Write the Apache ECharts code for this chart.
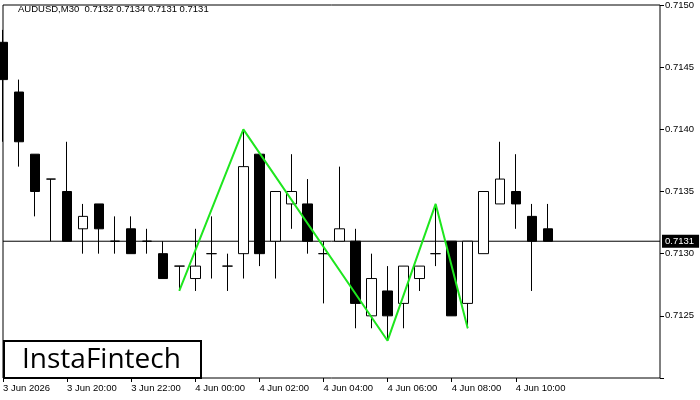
<!DOCTYPE html>
<html>
<head>
<meta charset="utf-8">
<script src="https://cdn.jsdelivr.net/npm/echarts@6/dist/echarts.min.js"></script>
<style>
  html, body { margin: 0; padding: 0; background: #fff; }
  #chart { width: 700px; height: 400px; }
</style>
</head>
<body>
<div id="chart"></div>
<script>
// 30-minute bars, 3 Jun 18:00 .. 4 Jun 11:00, plus empty slots to the right edge
const categories = [
  '3 Jun 2026', '3 Jun 18:30', '3 Jun 19:00', '3 Jun 19:30',
  '3 Jun 20:00', '3 Jun 20:30', '3 Jun 21:00', '3 Jun 21:30',
  '3 Jun 22:00', '3 Jun 22:30', '3 Jun 23:00', '3 Jun 23:30',
  '4 Jun 00:00', '4 Jun 00:30', '4 Jun 01:00', '4 Jun 01:30',
  '4 Jun 02:00', '4 Jun 02:30', '4 Jun 03:00', '4 Jun 03:30',
  '4 Jun 04:00', '4 Jun 04:30', '4 Jun 05:00', '4 Jun 05:30',
  '4 Jun 06:00', '4 Jun 06:30', '4 Jun 07:00', '4 Jun 07:30',
  '4 Jun 08:00', '4 Jun 08:30', '4 Jun 09:00', '4 Jun 09:30',
  '4 Jun 10:00', '4 Jun 10:30', '4 Jun 11:00', '4 Jun 11:30',
  '4 Jun 12:00', '4 Jun 12:30', '4 Jun 13:00', '4 Jun 13:30',
  '4 Jun 14:00', '4 Jun 14:30'
];
const opens  = [0.7147, 0.7143, 0.7138, 0.7136, 0.7135, 0.7132, 0.7134, 0.7131, 0.7132, 0.7131,
                0.7130, 0.7129, 0.7128, 0.7130, 0.7129, 0.7130, 0.7138, 0.7131, 0.7134, 0.7134,
                0.7130, 0.7131, 0.7131, 0.7125, 0.7127, 0.7126, 0.7128, 0.7130, 0.7131, 0.7126,
                0.7130, 0.7134, 0.7135, 0.7133, 0.7132];
const highs  = [0.7148, 0.7144, 0.7138, 0.7136, 0.7139, 0.7134, 0.7134, 0.7133, 0.7133, 0.7132,
                0.7131, 0.7129, 0.7132, 0.7133, 0.7130, 0.7140, 0.7138, 0.7135, 0.7138, 0.7136,
                0.7131, 0.7137, 0.7132, 0.7130, 0.7129, 0.7129, 0.7129, 0.7134, 0.7131, 0.7131,
                0.7135, 0.7139, 0.7138, 0.7134, 0.7134];
const lows   = [0.7139, 0.7137, 0.7133, 0.7131, 0.7131, 0.7130, 0.7130, 0.7130, 0.7130, 0.7130,
                0.7128, 0.7127, 0.7127, 0.7128, 0.7127, 0.7128, 0.7129, 0.7128, 0.7132, 0.7130,
                0.7126, 0.7131, 0.7124, 0.7124, 0.7123, 0.7124, 0.7127, 0.7129, 0.7125, 0.7124,
                0.7130, 0.7134, 0.7132, 0.7127, 0.7131];
const closes = [0.7144, 0.7139, 0.7135, 0.7136, 0.7131, 0.7133, 0.7132, 0.7131, 0.7130, 0.7131,
                0.7128, 0.7129, 0.7129, 0.7130, 0.7129, 0.7137, 0.7130, 0.7135, 0.7135, 0.7131,
                0.7130, 0.7132, 0.7126, 0.7128, 0.7125, 0.7129, 0.7129, 0.7130, 0.7125, 0.7131,
                0.7135, 0.7136, 0.7134, 0.7131, 0.7131];
// pattern (green zigzag): [bar index, price]
const patternPoints = [[11, 0.7127], [15, 0.7140], [24, 0.7123], [27, 0.7134], [29, 0.7124]];
const lastPrice = 0.7131;
const titleText = 'AUDUSD,M30  0.7132 0.7134 0.7131 0.7131';

const candles = opens.map((o, i) => [o, closes[i], lows[i], highs[i]]);
const lastIdx = categories.length - 1;

const showEvery4 = (idx) => idx % 4 === 0 && idx <= 32;

const chart = echarts.init(document.getElementById('chart'));
chart.setOption({
    animation: false,
    textStyle: {fontFamily: 'Liberation Sans'},
    grid: {
        left: 3,
        right: 40,
        top: 3,
        bottom: 22,
        show: true,
        borderColor: '#000',
        borderWidth: 1,
        backgroundColor: '#fff'
    },
    xAxis: {
        type: 'category',
        data: categories,
        boundaryGap: false,
        axisLine: {show: false},
        axisTick: {
            show: true,
            interval: showEvery4,
            length: 4,
            lineStyle: {color: '#000'}
        },
        axisLabel: {
            interval: showEvery4,
            align: 'left',
            margin: 5,
            color: '#000',
            fontSize: 9.5
        },
        splitLine: {show: false}
    },
    yAxis: {
        type: 'value',
        position: 'right',
        min: 0.7120,
        max: 0.7150,
        interval: 0.0005,
        axisLine: {show: false},
        axisTick: {show: true, length: 4, lineStyle: {color: '#000'}},
        axisLabel: {
            margin: 5,
            color: '#000',
            fontSize: 9.5,
            formatter: (v) => v < 0.71205 ? '' : v.toFixed(4)
        },
        splitLine: {show: false}
    },
    series: [
        {
            // current price line
            type: 'line',
            data: [[0, lastPrice], [lastIdx, lastPrice]],
            symbol: 'none',
            z: 1,
            silent: true,
            lineStyle: {color: '#000', width: 1},
            endLabel: {
                show: true,
                distance: 2,
                formatter: lastPrice.toFixed(4),
                color: '#fff',
                backgroundColor: '#000',
                fontSize: 9.5,
                padding: [2, 5, 1, 3]
            }
        },
        {
            type: 'candlestick',
            data: candles,
            barWidth: 10,
            clip: true,
            z: 2,
            itemStyle: {
                color: '#fff',
                color0: '#000',
                borderColor: '#000',
                borderColor0: '#000',
                borderWidth: 1
            }
        },
        {
            type: 'line',
            data: patternPoints,
            symbol: 'none',
            z: 5,
            lineStyle: {color: '#1ee61e', width: 2}
        }
    ],
    graphic: [
        {
            type: 'text',
            left: 18,
            top: 4,
            style: {text: titleText, font: '9.5px "Liberation Sans"', fill: '#000'}
        },
        {
            type: 'rect',
            shape: {x: 4, y: 341, width: 197, height: 37},
            style: {fill: '#fff', stroke: '#000', lineWidth: 2},
            z: 100
        },
        {
            type: 'text',
            x: 22,
            y: 360,
            style: {
                text: 'InstaFintech',
                font: '28px "Open Sans"',
                fill: '#000',
                textVerticalAlign: 'middle'
            },
            z: 101
        }
    ]
});
</script>
</body>
</html>
